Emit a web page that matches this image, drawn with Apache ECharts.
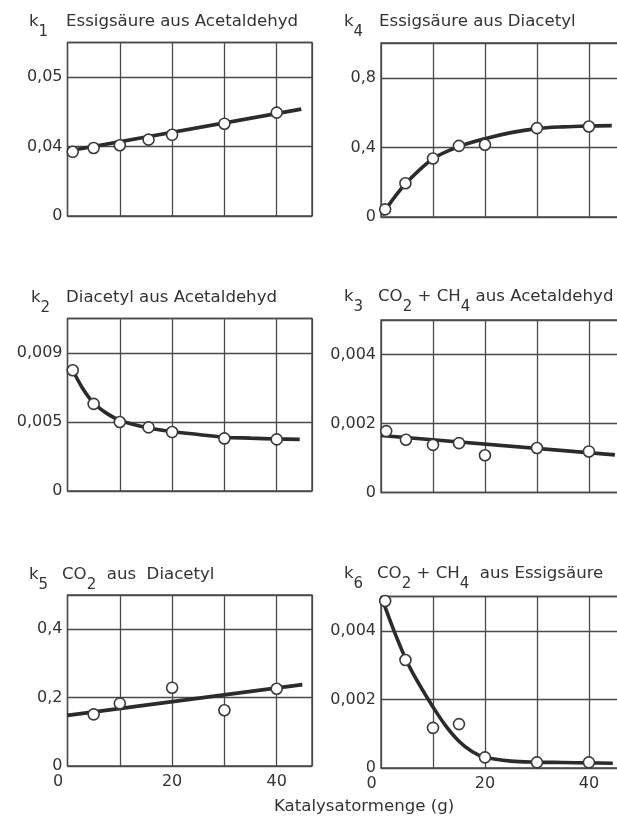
<!DOCTYPE html>
<html>
<head>
<meta charset="utf-8">
<script src="https://cdn.jsdelivr.net/npm/echarts@6/dist/echarts.min.js"></script>
<style>
  html, body { margin: 0; padding: 0; background: #ffffff; }
  #chart { width: 617px; height: 818px; }
</style>
</head>
<body>
<div id="chart"></div>
<script>
// Rate constants k1..k6 against catalyst amount (g)

// k1  Essigsäure aus Acetaldehyd
const k1X = [1, 5, 10, 15.5, 20, 30, 40];
const k1Y = [0.03925, 0.0398, 0.0402, 0.0410, 0.0417, 0.0433, 0.0449];
const k1FitX = [0.4, 44.7];
const k1FitY = [0.0394, 0.0454];
const k1TickLabels = ['0', '0,04', '0,05'];

// k4  Essigsäure aus Diacetyl
const k4X = [0.8, 4.7, 10, 15, 20, 30, 40];
const k4Y = [0.044, 0.194, 0.336, 0.409, 0.415, 0.511, 0.520];
const k4FitX = [0.3, 2, 5, 10, 15, 20, 25, 30, 35, 40, 44.4];
const k4FitY = [0.01, 0.09, 0.2, 0.335, 0.405, 0.45, 0.485, 0.508, 0.518, 0.523, 0.525];

// k2  Diacetyl aus Acetaldehyd (non-uniform scale through its ticks)
const k2X = [1, 5, 10, 15.5, 20, 30, 40];
const k2Y = [0.0080, 0.00605, 0.0050, 0.00461, 0.00427, 0.00381, 0.00374];
const k2FitX = [1, 3, 5, 7.5, 10, 15, 20, 25, 30, 35, 40, 44.4];
const k2FitY = [0.0080, 0.0069, 0.0061, 0.0055, 0.0051, 0.0046, 0.0043, 0.0041, 0.0039, 0.00383, 0.00377, 0.00374];
const k2Ticks = [0, 0.005, 0.009];
const k2TickLabels = ['0', '0,005', '0,009'];

// k3  CO2 + CH4 aus Acetaldehyd
const k3X = [1, 4.8, 10, 15, 20, 30, 40];
const k3Y = [0.00178, 0.00153, 0.00138, 0.00143, 0.00108, 0.00129, 0.00119];
const k3FitX = [0, 45];
const k3FitY = [0.00165, 0.00109];

// k5  CO2 aus Diacetyl
const k5X = [5, 10, 20, 30, 40];
const k5Y = [0.151, 0.183, 0.229, 0.163, 0.226];
const k5FitX = [0, 44.9];
const k5FitY = [0.148, 0.238];

// k6  CO2 + CH4 aus Essigsäure
const k6X = [0.8, 4.7, 10, 15, 20, 30, 40];
const k6Y = [0.00487, 0.00315, 0.00117, 0.00128, 0.00031, 0.000165, 0.000165];
const k6FitX = [0.3, 2.5, 5, 7.5, 10, 12.5, 15, 17.5, 20, 25, 30, 35, 40, 44.6];
const k6FitY = [0.0049, 0.0040, 0.0031, 0.0024, 0.00178, 0.00122, 0.00078, 0.00048, 0.00031, 0.0002, 0.00017, 0.00016, 0.00015, 0.00014];

// x axis ticks shown under the bottom row
const xTickLabels = [0, 20, 40];

// ---------------------------------------------------------------------
const FONT = 'DejaVu Sans';
const TEXT = '#333333';
const INK = '#2b2b2b';
const GRIDLINE = '#4a4a4a';

// k1 axis is broken below 0,04: positions counted in steps of 0,01 above 0,04
const k1Pos = v => 1 + (v - 0.04) / 0.01;
// k2 axis: piecewise linear between its ticks (0 -> 0,005 -> 0,009)
const k2Pos = v => {
  if (v <= k2Ticks[1]) return v / k2Ticks[1];
  return 1 + (v - k2Ticks[1]) / (k2Ticks[2] - k2Ticks[1]);
};
const ident = v => v;
const comma = v => String(v).replace('.', ',');

const grids = [
  { left: 67.5, top: 42.5, width: 244.5, height: 173.5 }, // k1
  { left: 381,  top: 43,   width: 243,   height: 174 },   // k4
  { left: 67.5, top: 318.5, width: 244.5, height: 172.5 }, // k2
  { left: 381,  top: 320,  width: 243,   height: 172.5 }, // k3
  { left: 67.5, top: 595,  width: 244.5, height: 171 },   // k5
  { left: 381,  top: 596.5, width: 243,  height: 171.5 }  // k6
].map(g => Object.assign({
  show: true, borderColor: GRIDLINE, borderWidth: 1.4,
  backgroundColor: 'transparent', containLabel: false, outerBoundsMode: 'none'
}, g));

const panels = [
  { x: k1X, y: k1Y, fx: k1FitX, fy: k1FitY, pos: k1Pos, smooth: false,
    yAxis: { min: 0, max: 2.5, interval: 1, fmt: v => k1TickLabels[v] !== undefined ? k1TickLabels[v] : '' } },
  { x: k4X, y: k4Y, fx: k4FitX, fy: k4FitY, pos: ident, smooth: 0.35,
    yAxis: { min: 0, max: 1.0, interval: 0.4, fmt: v => v > 0.9 ? '' : comma(+v.toFixed(1)) } },
  { x: k2X, y: k2Y, fx: k2FitX, fy: k2FitY, pos: k2Pos, smooth: 0.35,
    yAxis: { min: 0, max: 2.5, interval: 1, fmt: v => k2TickLabels[v] !== undefined ? k2TickLabels[v] : '' } },
  { x: k3X, y: k3Y, fx: k3FitX, fy: k3FitY, pos: ident, smooth: false,
    yAxis: { min: 0, max: 0.005, interval: 0.002, fmt: v => v > 0.0045 ? '' : comma(+v.toFixed(3)) } },
  { x: k5X, y: k5Y, fx: k5FitX, fy: k5FitY, pos: ident, smooth: false,
    yAxis: { min: 0, max: 0.5, interval: 0.2, fmt: v => v > 0.45 ? '' : comma(+v.toFixed(1)) } },
  { x: k6X, y: k6Y, fx: k6FitX, fy: k6FitY, pos: ident, smooth: 0.35,
    yAxis: { min: 0, max: 0.005, interval: 0.002, fmt: v => v > 0.0045 ? '' : comma(+v.toFixed(3)) } }
];

const xAxes = panels.map((p, i) => ({
  type: 'value', gridIndex: i, min: 0, max: 46.75, interval: 10,
  axisLine: { show: false },
  axisTick: { show: false },
  splitLine: { show: true, lineStyle: { color: GRIDLINE, width: 1.3 } },
  axisLabel: {
    show: i >= 4,
    margin: 8,
    fontFamily: FONT, fontSize: 16, color: TEXT,
    showMaxLabel: false,
    formatter: v => xTickLabels.indexOf(v) < 0 ? '' : (v === 0 ? '{z|0}' : String(v)),
    rich: { z: { fontFamily: FONT, fontSize: 16, color: TEXT, padding: [0, 19, 0, 0] } }
  }
}));

const yAxes = panels.map((p, i) => ({
  type: 'value', gridIndex: i,
  min: p.yAxis.min, max: p.yAxis.max, interval: p.yAxis.interval,
  axisLine: { show: false },
  axisTick: { show: false },
  splitLine: { show: true, lineStyle: { color: GRIDLINE, width: 1.3 } },
  axisLabel: {
    margin: 5,
    fontFamily: FONT, fontSize: 16, color: TEXT,
    formatter: p.yAxis.fmt
  }
}));

const series = [];
panels.forEach((p, i) => {
  series.push({
    type: 'line', xAxisIndex: i, yAxisIndex: i,
    data: p.fx.map((x, j) => [x, p.pos(p.fy[j])]),
    smooth: p.smooth, showSymbol: false, silent: true, clip: false,
    lineStyle: { color: INK, width: 3.6 }, z: 3
  });
  series.push({
    type: 'scatter', xAxisIndex: i, yAxisIndex: i,
    data: p.x.map((x, j) => [x, p.pos(p.y[j])]),
    symbol: 'circle', symbolSize: 11, clip: false,
    itemStyle: { color: '#ffffff', borderColor: '#3a3a3a', borderWidth: 1.6, opacity: 1 },
    z: 4
  });
});

// main text sits at the top of the line box, subscripts hang about 9 px lower
const RICH = {
  n: { fontFamily: FONT, fontSize: 16.6, fontWeight: 'normal', color: TEXT, lineHeight: 18, verticalAlign: 'top' },
  s: { fontFamily: FONT, fontSize: 15, fontWeight: 'normal', color: TEXT, lineHeight: 27, verticalAlign: 'bottom' }
};
const label = (left, top, text) => ({
  left, top, padding: 0, text,
  textStyle: { fontWeight: 'normal', fontFamily: FONT, rich: RICH }
});

const titles = [
  label(29, 13, '{n|k}{s|1}'),
  label(66, 13, '{n|Essigsäure aus Acetaldehyd}'),
  label(344, 13, '{n|k}{s|4}'),
  label(379, 13, '{n|Essigsäure aus Diacetyl}'),

  label(31, 289, '{n|k}{s|2}'),
  label(66, 289, '{n|Diacetyl aus Acetaldehyd}'),
  label(344, 288, '{n|k}{s|3}'),
  label(378, 288, '{n|CO}{s|2}{n| + CH}{s|4}{n| aus Acetaldehyd}'),

  label(29, 566, '{n|k}{s|5}'),
  label(62, 566, '{n|CO}{s|2}{n|  aus  Diacetyl}'),
  label(344, 565, '{n|k}{s|6}'),
  label(377, 565, '{n|CO}{s|2}{n| + CH}{s|4}{n|  aus Essigsäure}'),

  label(274, 798, '{n|Katalysatormenge (g)}')
];

const chart = echarts.init(document.getElementById('chart'), null, { renderer: 'canvas' });
chart.setOption({
  backgroundColor: '#ffffff',
  animation: false,
  title: titles,
  grid: grids,
  xAxis: xAxes,
  yAxis: yAxes,
  series
});
</script>
</body>
</html>
